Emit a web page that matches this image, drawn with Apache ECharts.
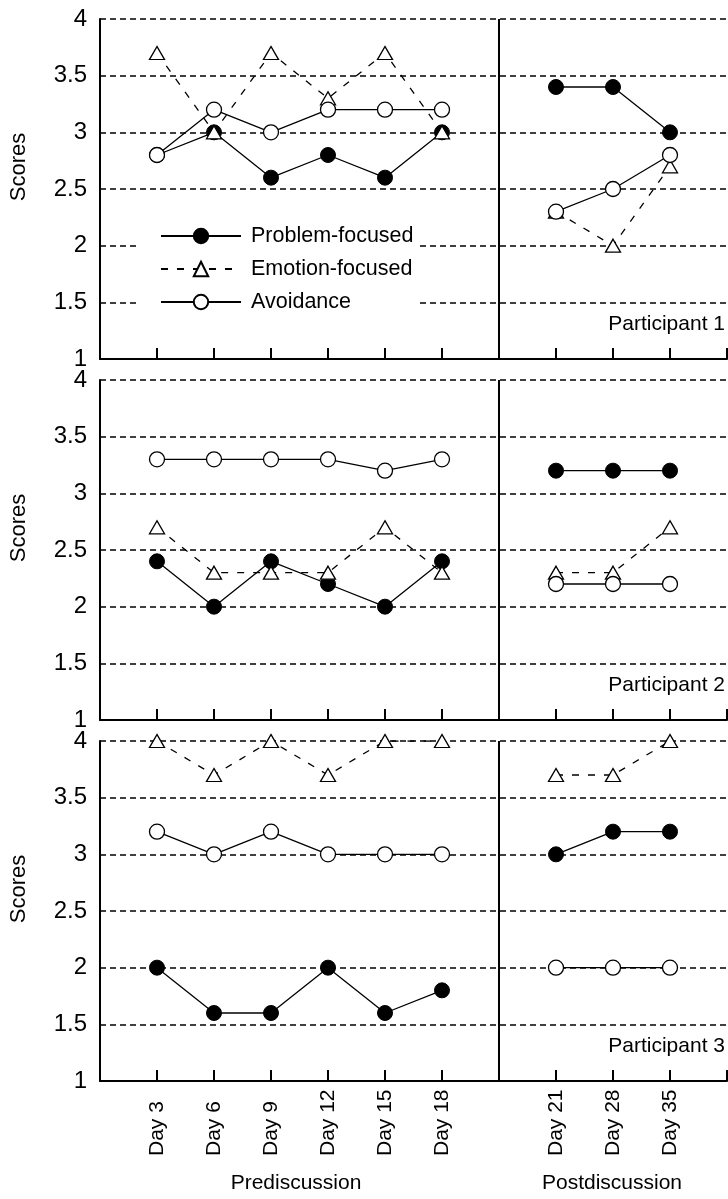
<!DOCTYPE html>
<html>
<head>
<meta charset="utf-8">
<script src="https://cdn.jsdelivr.net/npm/echarts@6/dist/echarts.min.js"></script>
<style>
  html, body { margin: 0; padding: 0; background: #fff; }
  #main { width: 728px; height: 1199px; }
</style>
</head>
<body>
<div id="main"></div>
<script>
// categories: an empty slot at each end and one for the pre/post divider
var days = ['', 'Day 3', 'Day 6', 'Day 9', 'Day 12', 'Day 15', 'Day 18', '', 'Day 21', 'Day 28', 'Day 35', ''];
var yTicks = [1, 1.5, 2, 2.5, 3, 3.5, 4];

// values per day (null = divider slot)
var p1Problem   = [2.8, 3.0, 2.6, 2.8, 2.6, 3.0, null, 3.4, 3.4, 3.0];
var p1Emotion   = [3.7, 3.0, 3.7, 3.3, 3.7, 3.0, null, 2.3, 2.0, 2.7];
var p1Avoidance = [2.8, 3.2, 3.0, 3.2, 3.2, 3.2, null, 2.3, 2.5, 2.8];

var p2Problem   = [2.4, 2.0, 2.4, 2.2, 2.0, 2.4, null, 3.2, 3.2, 3.2];
var p2Emotion   = [2.7, 2.3, 2.3, 2.3, 2.7, 2.3, null, 2.3, 2.3, 2.7];
var p2Avoidance = [3.3, 3.3, 3.3, 3.3, 3.2, 3.3, null, 2.2, 2.2, 2.2];

var p3Problem   = [2.0, 1.6, 1.6, 2.0, 1.6, 1.8, null, 3.0, 3.2, 3.2];
var p3Emotion   = [4.0, 3.7, 4.0, 3.7, 4.0, 4.0, null, 3.7, 3.7, 4.0];
var p3Avoidance = [3.2, 3.0, 3.2, 3.0, 3.0, 3.0, null, 2.0, 2.0, 2.0];

var panels = [
    {name: 'Participant 1', problem: p1Problem, emotion: p1Emotion, avoidance: p1Avoidance},
    {name: 'Participant 2', problem: p2Problem, emotion: p2Emotion, avoidance: p2Avoidance},
    {name: 'Participant 3', problem: p3Problem, emotion: p3Emotion, avoidance: p3Avoidance}
];

var FONT = '"Liberation Sans", Arial, Helvetica, sans-serif';
var gridTops = [19, 380, 741];
var gridH = 340;

var chart = echarts.init(document.getElementById('main'));

function pad(arr) {
    return [null].concat(arr, [null]);
}

var grids = [], xAxes = [], yAxes = [], series = [], titles = [];

panels.forEach(function (p, i) {
    grids.push({left: 97, width: 630, top: gridTops[i], height: gridH});

    xAxes.push({
        type: 'category',
        gridIndex: i,
        data: days,
        boundaryGap: false,
        axisLine: {lineStyle: {color: '#000', width: 2}},
        axisTick: {show: true, inside: true, length: 11, interval: 0, lineStyle: {color: '#000', width: 2}},
        axisLabel: {
            show: i === 2,
            interval: 0,
            rotate: 90,
            margin: 9,
            color: '#000',
            fontFamily: FONT,
            fontSize: 21,
            formatter: function (v) { return v ? '{d|' + v + '}' : ''; },
            rich: {d: {width: 66, align: 'left', fontSize: 21, fontFamily: FONT, color: '#000'}}
        },
        splitLine: {show: false}
    });

    yAxes.push({
        type: 'value',
        gridIndex: i,
        min: yTicks[0],
        max: yTicks[yTicks.length - 1],
        interval: 0.5,
        name: 'Scores',
        nameLocation: 'middle',
        nameRotate: 90,
        nameGap: 70,
        nameTextStyle: {color: '#000', fontSize: 22, fontFamily: FONT, padding: [0, 0, 0, 44]},
        axisLine: {show: true, lineStyle: {color: '#000', width: 2}},
        axisTick: {show: false},
        axisLabel: {color: '#000', fontSize: 24, fontFamily: FONT, margin: 13},
        splitLine: {show: true, lineStyle: {color: '#000', width: 1.5, type: [6, 4]}}
    });

    series.push({
        name: 'Problem-focused',
        type: 'line',
        xAxisIndex: i, yAxisIndex: i,
        data: pad(p.problem),
        symbol: 'circle',
        symbolSize: 15,
        showAllSymbol: true,
        lineStyle: {color: '#000', width: 1.3},
        itemStyle: {color: '#000', borderColor: '#000', borderWidth: 1},
        markLine: {
            silent: true,
            symbol: 'none',
            label: {show: false},
            lineStyle: {color: '#000', width: 2, type: 'solid'},
            data: [{xAxis: 7}]
        }
    });
    series.push({
        name: 'Emotion-focused',
        type: 'line',
        xAxisIndex: i, yAxisIndex: i,
        data: pad(p.emotion),
        symbol: 'triangle',
        symbolSize: [15, 13],
        showAllSymbol: true,
        lineStyle: {color: '#000', width: 1.3, type: [7, 9]},
        itemStyle: {color: '#fff', borderColor: '#000', borderWidth: 1.3}
    });
    series.push({
        name: 'Avoidance',
        type: 'line',
        xAxisIndex: i, yAxisIndex: i,
        data: pad(p.avoidance),
        symbol: 'circle',
        symbolSize: 15,
        showAllSymbol: true,
        lineStyle: {color: '#000', width: 1.3},
        itemStyle: {color: '#fff', borderColor: '#000', borderWidth: 1.3}
    });

    titles.push({
        text: p.name,
        right: 3,
        top: gridTops[i] + gridH - 45,
        padding: 0,
        textStyle: {color: '#000', fontSize: 21, fontWeight: 'normal', fontFamily: FONT}
    });
});

var option = {
    animation: false,
    backgroundColor: '#fff',
    title: titles,
    legend: {
        data: ['Problem-focused', 'Emotion-focused', 'Avoidance'],
        orient: 'vertical',
        left: 140,
        top: 215,
        padding: [10, 5, 10, 20],
        itemGap: 11,
        itemWidth: 80,
        itemHeight: 18,
        selectedMode: false,
        backgroundColor: '#fff',
        textStyle: {color: '#000', fontSize: 21.5, fontFamily: FONT, padding: [0, 0, 0, 5]}
    },
    grid: grids,
    xAxis: xAxes,
    yAxis: yAxes,
    series: series,
    graphic: [
        {type: 'text', x: 296, y: 1183, style: {text: 'Prediscussion', align: 'center', verticalAlign: 'middle', fill: '#000', font: '21px ' + FONT}},
        {type: 'text', x: 612, y: 1183, style: {text: 'Postdiscussion', align: 'center', verticalAlign: 'middle', fill: '#000', font: '21px ' + FONT}}
    ]
};

chart.setOption(option);

window.addEventListener('resize', function () {
    chart.resize();
});
</script>
</body>
</html>
